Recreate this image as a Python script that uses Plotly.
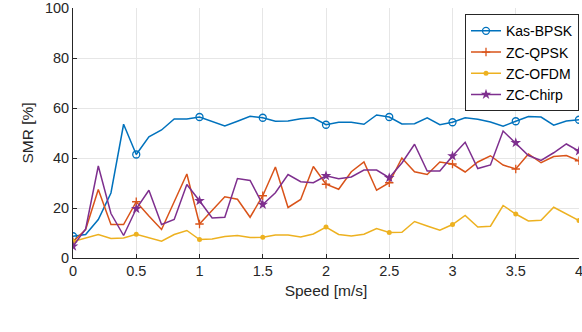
import plotly.graph_objects as go

speed = [round(i * 0.1, 1) for i in range(41)]

kas_bpsk = [8.7, 9.4, 15.4, 26.0, 53.5, 41.4, 48.5, 51.2, 55.6, 55.6,
            56.4, 54.5, 52.8, 54.7, 56.7, 56.1, 54.7, 54.8, 55.7, 56.1,
            53.3, 54.3, 54.3, 53.5, 57.2, 56.4, 53.6, 53.7, 56.1, 53.3,
            54.3, 56.1, 55.5, 54.4, 52.7, 54.7, 56.6, 56.4, 53.1, 54.8, 55.3]
zc_qpsk = [6.5, 11.4, 27.4, 13.4, 13.4, 22.5, 16.8, 11.4, 22.5, 33.6,
           13.6, 19.1, 24.5, 23.5, 16.3, 24.9, 36.4, 20.2, 23.4, 36.6,
           29.5, 27.5, 34.5, 38.4, 27.1, 30.1, 40.0, 34.5, 33.4, 38.4,
           37.6, 34.4, 38.4, 40.9, 37.2, 35.6, 41.6, 38.1, 40.6, 41.0, 38.9]
zc_ofdm = [6.6, 8.0, 9.4, 7.8, 8.0, 9.5, 8.0, 6.7, 9.4, 11.0,
           7.4, 7.6, 8.6, 9.0, 8.2, 8.3, 9.2, 9.2, 8.4, 9.6,
           12.4, 9.4, 8.8, 9.5, 11.8, 10.2, 10.3, 14.6, 12.8, 11.1,
           13.4, 17.0, 12.4, 12.7, 21.0, 17.6, 14.8, 15.1, 20.3, 17.6, 15.0]
zc_chirp = [4.7, 11.6, 36.8, 17.8, 9.0, 19.7, 27.1, 13.4, 15.4, 29.4,
            22.9, 16.0, 16.3, 31.8, 31.0, 21.4, 26.1, 33.4, 30.5, 30.1,
            32.9, 31.7, 32.4, 35.2, 35.2, 32.1, 38.0, 45.5, 34.8, 34.8,
            40.8, 46.3, 35.8, 37.2, 50.8, 46.1, 41.0, 39.0, 42.1, 45.6, 42.8]

names = ["Kas-BPSK", "ZC-QPSK", "ZC-OFDM", "ZC-Chirp"]
series = [kas_bpsk, zc_qpsk, zc_ofdm, zc_chirp]
colors = ["#0072BD", "#D95319", "#EDB120", "#7E2F8E"]
markers = [
    dict(symbol="circle-open", size=7, line=dict(width=1.3)),
    dict(symbol="cross-thin-open", size=6, line=dict(width=1.3)),
    dict(symbol="circle", size=5),
    dict(symbol="star", size=8),
]

fig = go.Figure()
for name, ys, c, m in zip(names, series, colors, markers):
    mk = dict(m)
    mk["color"] = c
    if "line" in mk:
        mk["line"] = dict(mk["line"], color=c)
    fig.add_trace(go.Scatter(x=speed, y=ys, mode="lines",
                             line=dict(color=c, width=1.5), showlegend=False,
                             hoverinfo="skip"))
    fig.add_trace(go.Scatter(x=speed[::5], y=ys[::5], mode="markers",
                             marker=mk, showlegend=False))
    fig.add_trace(go.Scatter(x=[None], y=[None], mode="lines+markers", name=name,
                             line=dict(color=c, width=1.5), marker=mk))

axis_common = dict(
    showline=True, linecolor="#262626", linewidth=1,
    ticks="inside", ticklen=4, tickcolor="#262626",
    showgrid=True, gridcolor="#e6e6e6", gridwidth=1,
    zeroline=False, mirror=False, ticklabeloverflow="allow",
    tickfont=dict(family="Liberation Sans, Arial, sans-serif", size=14.5, color="#262626"),
)

fig.update_layout(
    width=582, height=332,
    margin=dict(l=73, r=3, t=8, b=74, autoexpand=False),
    paper_bgcolor="white", plot_bgcolor="white",
    font=dict(family="Liberation Sans, Arial, sans-serif", color="#262626"),
    xaxis=dict(axis_common, range=[0, 4], tickvals=[0, 0.5, 1, 1.5, 2, 2.5, 3, 3.5, 4],
               title=dict(text="Speed [m/s]", font=dict(size=15.5), standoff=6)),
    yaxis=dict(axis_common, range=[0, 100], tickvals=[0, 20, 40, 60, 80, 100],
               title=dict(text="SMR [%]", font=dict(size=15.5), standoff=7)),
    legend=dict(x=1, y=0.975, xanchor="right", yanchor="top",
                bgcolor="white", bordercolor="#262626", borderwidth=1,
                font=dict(size=14, color="black"), tracegroupgap=0,
                itemwidth=30),
    showlegend=True,
)

fig.write_html("out.html", config={"displayModeBar": False},
               post_script="document.body.style.margin='0';")
